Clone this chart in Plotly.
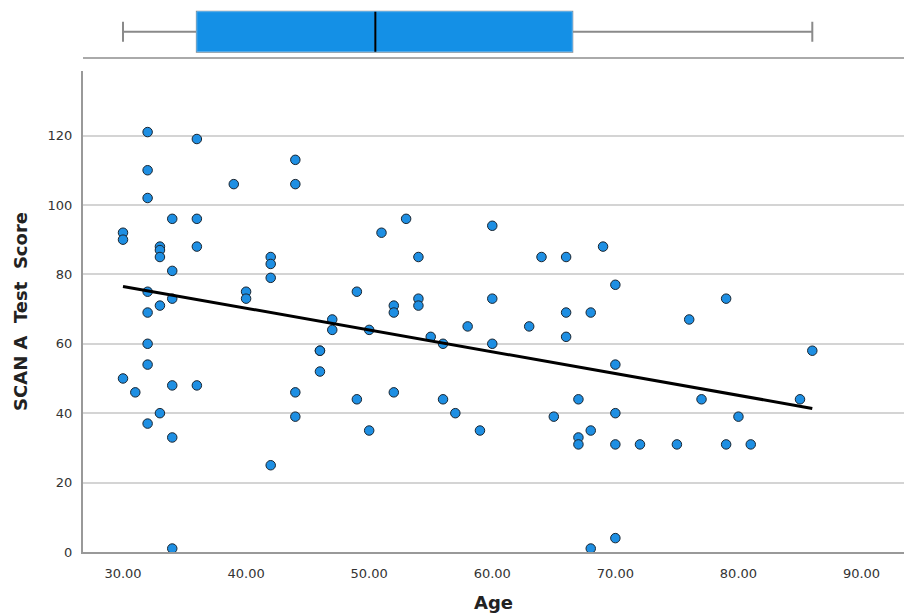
import numpy as np
import plotly.graph_objects as go

# ---- data ----
ages = [30, 30, 30, 31,
        32, 32, 32, 32, 32, 32, 32, 32,
        33, 33, 33, 33, 33,
        34, 34, 34, 34, 34, 34,
        36, 36, 36, 36,
        39, 40, 40,
        42, 42, 42, 42,
        44, 44, 44, 44,
        46, 46, 46, 47, 47, 49, 49, 50, 50, 51,
        52, 52, 52, 53, 54, 54, 54, 55, 56, 56, 57, 58, 59,
        60, 60, 60, 63, 64, 65, 66, 66, 66,
        67, 67, 67, 68, 68, 68, 69,
        70, 70, 70, 70, 70,
        72, 75, 76, 77, 79, 79, 80, 81, 85, 86]
scores = [92, 90, 50, 46,
          121, 110, 102, 75, 69, 60, 54, 37,
          88, 87, 85, 71, 40,
          96, 81, 73, 48, 33, 1,
          119, 96, 88, 48,
          106, 75, 73,
          85, 83, 79, 25,
          113, 106, 46, 39,
          58, 58, 52, 67, 64, 75, 44, 64, 35, 92,
          71, 69, 46, 96, 85, 73, 71, 62, 60, 44, 40, 65, 35,
          94, 73, 60, 65, 85, 39, 85, 69, 62,
          44, 33, 31, 69, 35, 1, 88,
          77, 54, 40, 31, 4,
          31, 31, 67, 44, 73, 31, 39, 31, 44, 58]

# box plot summary of Age (as drawn in the reference)
box_q1 = 36.0
box_median = 50.5
box_q3 = 66.5
box_min = 30.0
box_max = 86.0

x_ticks = [30, 40, 50, 60, 70, 80, 90]
x_tick_labels = ["30.00", "40.00", "50.00", "60.00", "70.00", "80.00", "90.00"]
y_ticks = [0, 20, 40, 60, 80, 100, 120]

# ---- styling ----
POINT_FILL = "#1e8fe3"
BOX_FILL = "#1490e6"
AXIS_GRAY = "#999999"
GRID_GRAY = "#d4d4d4"
FONT = "DejaVu Sans"

# regression line (least squares fit)
slope, intercept = np.polyfit(ages, scores, 1)
fit_x = np.array([min(ages), max(ages)])
fit_y = slope * fit_x + intercept

fig = go.Figure()

fig.add_trace(go.Scatter(
    x=ages, y=scores, mode="markers",
    marker=dict(size=9.5, color=POINT_FILL, line=dict(color="#1a2530", width=1)),
    xaxis="x", yaxis="y", showlegend=False, hoverinfo="x+y"))

fig.add_trace(go.Scatter(
    x=fit_x, y=fit_y, mode="lines",
    line=dict(color="black", width=3),
    xaxis="x", yaxis="y", showlegend=False, hoverinfo="skip"))

# box plot: whiskers (gray)
fig.add_trace(go.Box(
    y=[0], q1=[box_q1], median=[box_median], q3=[box_q3],
    lowerfence=[box_min], upperfence=[box_max],
    orientation="h", width=0.8, whiskerwidth=0.5,
    fillcolor=BOX_FILL, line=dict(color="#8a8a8a", width=2),
    xaxis="x2", yaxis="y2", showlegend=False, hoverinfo="skip"))
# box body (blue, light outline)
fig.add_trace(go.Box(
    y=[0], q1=[box_q1], median=[box_median], q3=[box_q3],
    lowerfence=[box_q1], upperfence=[box_q3],
    orientation="h", width=0.8, whiskerwidth=0,
    fillcolor=BOX_FILL, line=dict(color="#5fb2ee", width=1),
    xaxis="x2", yaxis="y2", showlegend=False, hoverinfo="skip"))
# median line (black)
fig.add_trace(go.Scatter(
    x=[box_median, box_median], y=[-0.4, 0.4], mode="lines",
    line=dict(color="black", width=2),
    xaxis="x2", yaxis="y2", showlegend=False, hoverinfo="skip"))

xrange = [26.75, 93.45]
fig.update_layout(
    width=916, height=615,
    margin=dict(l=83, r=12, t=0, b=63),
    paper_bgcolor="white", plot_bgcolor="white",
    font=dict(family=FONT, size=13, color="#333333"),
    boxmode="overlay",
    xaxis=dict(
        domain=[0, 1], range=xrange, anchor="y", automargin=False,
        tickvals=x_ticks, ticktext=x_tick_labels,
        showgrid=False, zeroline=False,
        showline=True, linecolor=AXIS_GRAY, linewidth=2,
        ticks="outside", ticklen=8, tickcolor="rgba(0,0,0,0)",
        title=dict(text="<b>Age</b>", font=dict(family=FONT, size=18, color="#222222"), standoff=17),
    ),
    yaxis=dict(
        domain=[0, 0.8714], range=[0, 138.6], anchor="x", automargin=False,
        tickvals=y_ticks,
        showgrid=True, gridcolor=GRID_GRAY, gridwidth=1.5,
        zeroline=False,
        showline=True, linecolor=AXIS_GRAY, linewidth=2,
        ticks="outside", ticklen=6, tickcolor="rgba(0,0,0,0)",
        title=dict(text="<b>SCAN A\u00a0 Test\u00a0 Score</b>", font=dict(family=FONT, size=18, color="#222222"), standoff=15),
    ),
    xaxis2=dict(
        domain=[0, 1], range=xrange, anchor="y2", automargin=False,
        showticklabels=False, showgrid=False, zeroline=False,
        showline=True, linecolor="#aaaaaa", linewidth=2,
    ),
    yaxis2=dict(
        domain=[0.8973, 0.9879], range=[-0.5, 0.5], anchor="x2", automargin=False,
        showticklabels=False, showgrid=False, zeroline=False, showline=False,
    ),
)

fig.write_html("out.html", config={"displayModeBar": False},
               post_script="document.body.style.margin='0';document.body.style.overflow='hidden';")
